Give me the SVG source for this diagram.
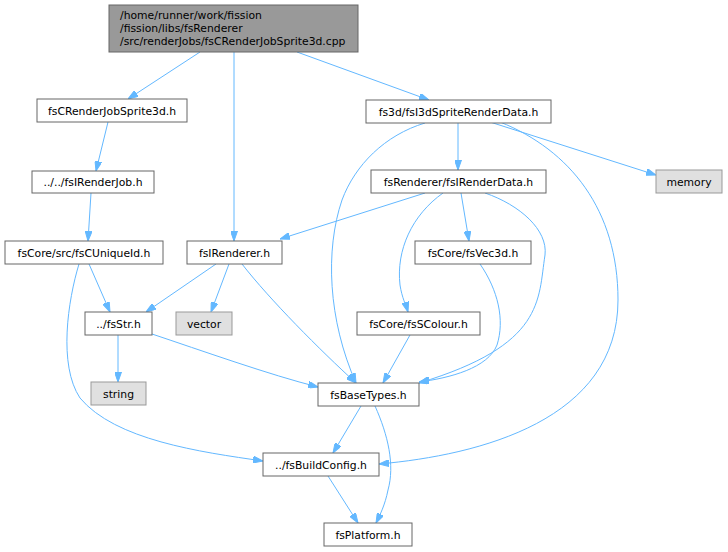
<svg xmlns="http://www.w3.org/2000/svg" width="728" height="552" viewBox="0 0 728 552">
<style>
text{font-family:"DejaVu Sans","Liberation Sans",sans-serif;font-size:10.8px;fill:#000}
.n rect{fill:#fff;stroke:#666;stroke-width:1}
.g rect{fill:#e0e0e0;stroke:#999;stroke-width:1}
.r rect{fill:#999;stroke:#666;stroke-width:1}
.n text,.g text{text-anchor:middle}
#edges path{fill:none;stroke:#63b8ff;stroke-width:1;marker-end:url(#ah)}
</style>
<defs>
<marker id="ah" viewBox="0 0 10 7" refX="10" refY="3.5" markerWidth="10" markerHeight="7" markerUnits="userSpaceOnUse" orient="auto">
<path d="M0,0 L10,3.5 L0,7 Z" fill="#63b8ff" stroke="#63b8ff"/>
</marker>
</defs>
<rect width="728" height="552" fill="#fff"/>
<g id="edges">
<path d="M200,52 L128,99"/>
<path d="M234,52 L234,241"/>
<path d="M297,52 L429,100"/>
<path d="M108,122 L96,171"/>
<path d="M91,193 L88,241"/>
<path d="M89,264 L110,312"/>
<path d="M79,264 C68,300 58,365 80,398 C115,440 200,452 263,461"/>
<path d="M216,264 L146,312"/>
<path d="M229,264 L211,312"/>
<path d="M242,264 C270,300 320,350 356,383"/>
<path d="M118,335 L118,382"/>
<path d="M152,334 C200,350 270,375 318,387"/>
<path d="M458,123 L458,170"/>
<path d="M490,122 L656,175"/>
<path d="M425,123 C385,135 355,165 342,200 C325,250 328,320 356,383"/>
<path d="M500,122 C570,150 618,210 618,300 C618,420 480,455 379,464"/>
<path d="M425,193 L280,239"/>
<path d="M461,193 L469,241"/>
<path d="M443,193 C412,215 396,250 400,285 C402,298 406,305 408,312"/>
<path d="M485,193 C520,205 548,230 545,255 C538,300 545,345 419,383"/>
<path d="M480,264 C498,290 505,320 497,345 C488,368 450,378 419,382"/>
<path d="M410,335 L383,383"/>
<path d="M361,406 L333,453"/>
<path d="M375,406 C388,435 395,465 388,490 C385,505 380,515 376,523"/>
<path d="M328,476 L358,523"/>
</g>
<g id="root" class="r"><rect x="109" y="5" width="249" height="47"/>
<text x="120" y="19">/home/runner/work/fission</text>
<text x="120" y="32">/fission/libs/fsRenderer</text>
<text x="120" y="45">/src/renderJobs/fsCRenderJobSprite3d.cpp</text></g>
<g id="n1" class="n"><rect x="37" y="99" width="150" height="23"/><text x="112" y="114.5">fsCRenderJobSprite3d.h</text></g>
<g id="n2" class="n"><rect x="366" y="100" width="185" height="23"/><text x="458.5" y="115.5">fs3d/fsI3dSpriteRenderData.h</text></g>
<g id="n3" class="g"><rect x="656" y="170" width="66" height="23"/><text x="689" y="185.5">memory</text></g>
<g id="n4" class="n"><rect x="371" y="170" width="175" height="23"/><text x="458.5" y="185.5">fsRenderer/fsIRenderData.h</text></g>
<g id="n5" class="n"><rect x="32" y="171" width="122" height="22"/><text x="93" y="186">../../fsIRenderJob.h</text></g>
<g id="n6" class="n"><rect x="5" y="241" width="158" height="23"/><text x="84" y="256.5">fsCore/src/fsCUniqueId.h</text></g>
<g id="n7" class="n"><rect x="187" y="241" width="95" height="23"/><text x="234.5" y="256.5">fsIRenderer.h</text></g>
<g id="n8" class="n"><rect x="415" y="241" width="116" height="23"/><text x="473" y="256.5">fsCore/fsVec3d.h</text></g>
<g id="n9" class="n"><rect x="85" y="312" width="67" height="23"/><text x="118.5" y="327.5">../fsStr.h</text></g>
<g id="n10" class="g"><rect x="176" y="312" width="56" height="23"/><text x="204" y="327.5">vector</text></g>
<g id="n11" class="n"><rect x="357" y="312" width="123" height="23"/><text x="418.5" y="327.5">fsCore/fsSColour.h</text></g>
<g id="n12" class="g"><rect x="91" y="382" width="55" height="23"/><text x="118.5" y="397.5">string</text></g>
<g id="n13" class="n"><rect x="318" y="383" width="101" height="23"/><text x="368.5" y="398.5">fsBaseTypes.h</text></g>
<g id="n14" class="n"><rect x="263" y="453" width="116" height="23"/><text x="321" y="468.5">../fsBuildConfig.h</text></g>
<g id="n15" class="n"><rect x="324" y="523" width="88" height="23"/><text x="368" y="538.5">fsPlatform.h</text></g>
</svg>
